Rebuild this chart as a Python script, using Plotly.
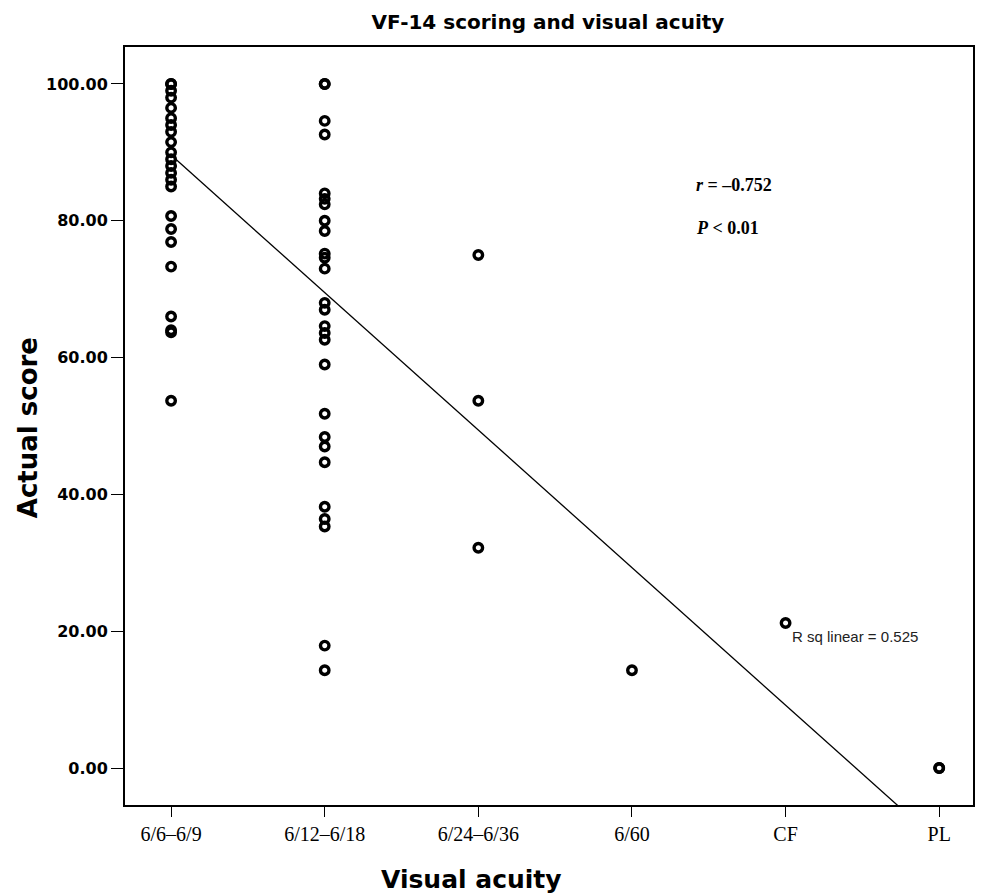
import plotly.graph_objects as go

categories = ["6/6–6/9", "6/12–6/18", "6/24–6/36", "6/60", "CF", "PL"]

scores_6_6 = [100, 100, 99, 98, 96.5, 95, 94, 93, 91.5, 90, 89, 88, 87, 86, 85,
              80.7, 78.8, 76.9, 73.3, 66, 64, 63.7, 53.7]
scores_6_12 = [100, 100, 94.6, 92.6, 84, 83.2, 82.4, 80, 78.5, 75.2, 74.6, 73,
               68, 67, 64.6, 63.6, 62.6, 59, 51.8, 48.4, 47, 44.7, 38.2, 36.4,
               35.3, 17.9, 14.3]
scores_6_24 = [75, 53.7, 32.2]
scores_6_60 = [14.3]
scores_cf = [21.2]
scores_pl = [0, 0]

fit_intercept = 89.6
fit_slope = -20.1

y_ticks = [0, 20, 40, 60, 80, 100]
y_ticklabels = ["0.00", "20.00", "40.00", "60.00", "80.00", "100.00"]

# page has an 8px body margin; the figure is sized to fit the window
OFF = 8
W, H = 987 - OFF, 893 - OFF
L, R, T, B = 125 - OFF, 12, 47 - OFF, 88
PW, PH = W - L - R, H - T - B


def px(xp):
    return (xp - OFF - L) / PW


def py(yp):
    return (H - (yp - OFF) - B) / PH


groups = [scores_6_6, scores_6_12, scores_6_24, scores_6_60, scores_cf, scores_pl]
xs, ys = [], []
for i, g in enumerate(groups):
    xs += [i] * len(g)
    ys += g

fig = go.Figure()
fit_x = [0, 5]
fig.add_trace(go.Scatter(
    x=fit_x, y=[fit_intercept + fit_slope * v for v in fit_x],
    mode="lines", line=dict(color="black", width=1.3), hoverinfo="skip",
))
fig.add_trace(go.Scatter(
    x=xs, y=ys, mode="markers",
    marker=dict(symbol="circle-open", size=8.5, color="black",
                line=dict(color="black", width=3.4)),
    cliponaxis=False,
))

fig.update_layout(
    width=W, height=H,
    margin=dict(l=L, r=R, t=T, b=B),
    paper_bgcolor="white", plot_bgcolor="white",
    showlegend=False,
    title=dict(text="<b>VF-14 scoring and visual acuity</b>", x=(548 - OFF) / W,
               xanchor="center", y=1 - (22 - OFF) / H, yanchor="middle",
               font=dict(family="DejaVu Sans", size=20, color="black")),
    xaxis=dict(
        range=[-0.3, 5.22], tickmode="array", tickvals=list(range(6)), ticktext=categories,
        showgrid=False, zeroline=False, showline=True, linecolor="black", linewidth=2,
        mirror=True, ticks="outside", ticklen=10, tickwidth=1.2, tickcolor="black",
        tickfont=dict(family="Liberation Serif, Times New Roman", size=20, color="black"),
    ),
    yaxis=dict(
        range=[-5.4, 105.4], tickmode="array", tickvals=y_ticks, ticktext=y_ticklabels,
        showgrid=False, zeroline=False, showline=True, linecolor="black", linewidth=2,
        mirror=True, ticks="outside", ticklen=12, tickwidth=1.2, tickcolor="black",
        tickfont=dict(family="DejaVu Sans", size=16, color="black", weight="bold"),
    ),
)

fig.add_annotation(text="<b>Visual acuity</b>", xref="paper", yref="paper",
                   x=px(472), y=py(879), showarrow=False,
                   xanchor="center", yanchor="middle",
                   font=dict(family="DejaVu Sans", size=25, color="black"))
fig.add_annotation(text="<b>Actual score</b>", xref="paper", yref="paper",
                   x=px(28), y=py(428), showarrow=False,
                   textangle=-90, xanchor="center", yanchor="middle",
                   font=dict(family="DejaVu Sans", size=26, color="black"))
fig.add_annotation(text="<b><i>r</i> = –0.752</b>", xref="paper", yref="paper",
                   x=px(695), y=py(185), showarrow=False,
                   xanchor="left", yanchor="middle",
                   font=dict(family="Liberation Serif, Times New Roman", size=18, color="black"))
fig.add_annotation(text="<b><i>P</i> &lt; 0.01</b>", xref="paper", yref="paper",
                   x=px(695), y=py(228), showarrow=False,
                   xanchor="left", yanchor="middle",
                   font=dict(family="Liberation Serif, Times New Roman", size=18, color="black"))
fig.add_annotation(text="R sq linear = 0.525", xref="paper", yref="paper",
                   x=px(792), y=py(636), showarrow=False,
                   xanchor="left", yanchor="middle",
                   font=dict(family="Liberation Sans, Arial", size=15, color="#222222"))

fig.write_html("out.html")
